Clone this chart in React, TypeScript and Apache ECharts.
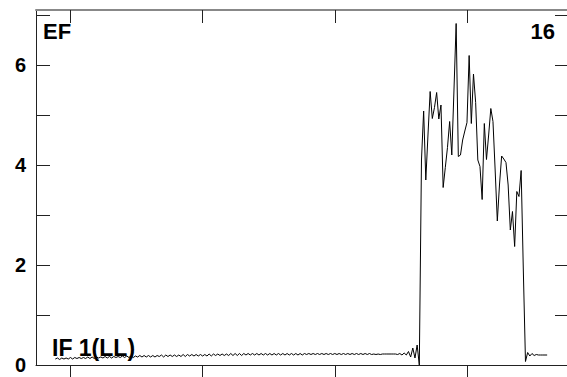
import React, { useEffect, useRef } from "react";
import * as echarts from "echarts";

// Sample index of the first baseline value
const xStart = -7;

// Baseline (quiet part), samples -7 .. 154
const baselineValues = [
  0.12, 0.14, 0.11, 0.14, 0.12, 0.14, 0.12, 0.15, 0.12, 0.15,
  0.13, 0.15, 0.13, 0.15, 0.13, 0.16, 0.13, 0.16, 0.13, 0.16,
  0.14, 0.16, 0.14, 0.17, 0.14, 0.17, 0.14, 0.17, 0.15, 0.17,
  0.15, 0.18, 0.15, 0.18, 0.15, 0.18, 0.15, 0.18, 0.16, 0.19,
  0.16, 0.19, 0.16, 0.19, 0.16, 0.19, 0.16, 0.19, 0.17, 0.2,
  0.16, 0.2, 0.17, 0.2, 0.17, 0.2, 0.17, 0.2, 0.17, 0.21,
  0.17, 0.21, 0.18, 0.21, 0.18, 0.21, 0.18, 0.21, 0.18, 0.21,
  0.18, 0.22, 0.18, 0.22, 0.19, 0.22, 0.19, 0.22, 0.19, 0.22,
  0.19, 0.23, 0.19, 0.23, 0.19, 0.23, 0.19, 0.23, 0.2, 0.23,
  0.2, 0.23, 0.2, 0.23, 0.2, 0.23, 0.2, 0.23, 0.2, 0.23,
  0.2, 0.23, 0.2, 0.23, 0.2, 0.23, 0.2, 0.23, 0.2, 0.23,
  0.2, 0.23, 0.2, 0.23, 0.2, 0.23, 0.21, 0.23, 0.21, 0.23,
  0.21, 0.23, 0.21, 0.23, 0.21, 0.23, 0.21, 0.23, 0.21, 0.23,
  0.21, 0.23, 0.21, 0.23, 0.21, 0.23, 0.21, 0.23, 0.21, 0.23,
  0.21, 0.23, 0.21, 0.23, 0.21, 0.23, 0.21, 0.22, 0.21, 0.22,
  0.21, 0.22, 0.22, 0.22, 0.22, 0.22, 0.22, 0.22, 0.21, 0.23,
  0.2, 0.24,
];

// Burst, samples 155 .. 210
const burstValues = [
  0.2, 0.27, 0.16, 0.34, 0.14, 0.4, 0.0, 4.1, 5.08, 3.7,
  4.6, 5.47, 4.93, 5.15, 5.45, 4.92, 5.2, 3.55, 3.95, 4.35,
  4.87, 4.2, 5.5, 6.83, 4.17, 4.2, 4.5, 4.68, 4.85, 6.19,
  4.83, 5.82, 5.25, 4.1, 3.97, 3.31, 4.83, 4.11, 4.6, 5.13,
  4.87, 3.9, 2.88, 3.6, 4.18, 4.12, 4.05, 3.6, 2.7, 3.07,
  2.37, 3.47, 3.37, 3.89, 1.9, 0.07,
];

// Tail, samples 211 .. 220
const tailValues = [0.25, 0.18, 0.23, 0.19, 0.21, 0.2, 0.2, 0.2, 0.2, 0.2];

const xTicks = [0, 61, 122, 183];
const yTicks = [0, 1, 2, 3, 4, 5, 6, 7];
const yLabels = [0, 2, 4, 6];

const topLeftLabel = "EF";
const topRightLabel = "16";
const bottomLeftLabel = "IF 1(LL)";

const FONT = "'Liberation Sans', Arial, sans-serif";

export default function App() {
  const ref = useRef<HTMLDivElement>(null);

  useEffect(() => {
    if (!ref.current) return;
    const chart = echarts.init(ref.current, null, { renderer: "svg" });
    const all = [...baselineValues, ...burstValues, ...tailValues];
    const data = all.map((v, i) => [xStart + i, v]);

    const xMin = -15.9;
    const xMax = 229.16;

    chart.setOption({
      animation: false,
      backgroundColor: "#fff",
      grid: { left: 36, top: 10, width: 533, height: 355, containLabel: false },
      xAxis: [
        {
          type: "value",
          position: "bottom",
          min: xMin,
          max: xMax,
          axisLine: { show: true, lineStyle: { color: "#222", width: 1 } },
          axisTick: {
            show: true,
            inside: false,
            length: 14,
            customValues: xTicks,
            lineStyle: { color: "#222", width: 1 },
          },
          axisLabel: { show: false },
          splitLine: { show: false },
        },
        {
          type: "value",
          position: "top",
          min: xMin,
          max: xMax,
          axisLine: { show: true, onZero: false, lineStyle: { color: "#888", width: 2 } },
          axisTick: {
            show: true,
            inside: true,
            length: 13,
            customValues: xTicks,
            lineStyle: { color: "#222", width: 1 },
          },
          axisLabel: { show: false },
          splitLine: { show: false },
        },
      ],
      yAxis: [
        {
          type: "value",
          position: "left",
          min: 0,
          max: 7.1,
          axisLine: { show: true, onZero: false, lineStyle: { color: "#222", width: 1 } },
          axisTick: {
            show: true,
            inside: true,
            length: 14,
            customValues: yTicks,
            lineStyle: { color: "#222", width: 1 },
          },
          axisLabel: {
            show: true,
            customValues: yLabels,
            margin: 10,
            fontFamily: FONT,
            fontWeight: "bold",
            fontSize: 20,
            color: "#000",
            padding: [5, 0, 0, 0],
          },
          splitLine: { show: false },
        },
        {
          type: "value",
          position: "right",
          min: 0,
          max: 7.1,
          axisLine: { show: true, onZero: false, lineStyle: { color: "#222", width: 1 } },
          axisTick: {
            show: true,
            inside: true,
            length: 12,
            customValues: yTicks,
            lineStyle: { color: "#222", width: 1 },
          },
          axisLabel: { show: false },
          splitLine: { show: false },
        },
      ],
      series: [
        {
          type: "line",
          data,
          xAxisIndex: 0,
          yAxisIndex: 0,
          showSymbol: false,
          symbol: "none",
          lineStyle: { color: "#000", width: 1 },
          z: 3,
        },
      ],
      graphic: [
        {
          type: "text",
          left: 43,
          top: 20,
          z: 10,
          style: {
            text: topLeftLabel,
            font: `bold 22px ${FONT}`,
            fill: "#000",
          },
        },
        {
          type: "text",
          right: 12,
          top: 20,
          z: 10,
          style: {
            text: topRightLabel,
            font: `bold 22px ${FONT}`,
            fill: "#000",
          },
        },
        {
          type: "text",
          left: 52,
          top: 336,
          z: 10,
          style: {
            text: bottomLeftLabel,
            font: `bold 23px ${FONT}`,
            fill: "#000",
          },
        },
      ],
    });

    return () => {
      chart.dispose();
    };
  }, []);

  return (
    <div
      ref={ref}
      style={{ position: "fixed", left: 0, top: 0, width: 567, height: 377 }}
    />
  );
}
